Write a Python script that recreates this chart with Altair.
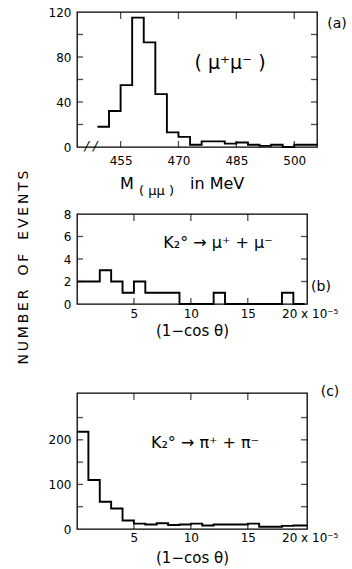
import altair as alt
import pandas as pd

FONT = "DejaVu Sans"

# ---------------- panel (a): M(mu mu) spectrum ----------------
a_bin_starts = [449, 452, 455, 458, 461, 464, 467, 470, 473, 476,
                479, 482, 485, 488, 491, 494, 497, 500, 503]
a_bin_end = 506
a_counts = [18, 32, 55, 115, 93, 47, 13, 9, 2, 5, 5, 3, 4, 2, 1, 2, 0, 2, 2]
a_x_labels = [455, 470, 485, 500]
a_x_ticks = [455, 470, 485, 500]
a_y_labels = [0, 40, 80, 120]
a_y_ticks = [20, 40, 60, 80, 100]
a_x_domain = [443.7, 505.9]
a_y_domain = [0, 120]

# ---------------- panel (b): K2 -> mu+ mu- ----------------
b_bin_starts = [0, 1, 2, 3, 4, 5, 6, 7, 8, 9, 10, 11, 12, 13, 14, 15, 16, 17, 18, 19]
b_bin_end = 20
b_counts = [2, 2, 3, 2, 1, 2, 1, 1, 1, 0, 0, 0, 1, 0, 0, 0, 0, 0, 1, 0]
b_y_labels = [0, 2, 4, 6, 8]
b_y_ticks = [2, 4, 6]
b_y_domain = [0, 8]

# ---------------- panel (c): K2 -> pi+ pi- ----------------
c_bin_starts = [0, 1, 2, 3, 4, 5, 6, 7, 8, 9, 10, 11, 12, 13, 14, 15, 16, 17, 18, 19]
c_bin_end = 20.2
c_counts = [218, 110, 61, 46, 19, 12, 10, 13, 9, 10, 12, 8, 10, 10, 10, 12, 5, 5, 7, 8]
c_y_labels = [0, 100, 200]
c_y_ticks = [50, 100, 150, 200, 250]
c_y_domain = [0, 305]

bc_x_labels = [5, 10, 15, 20]
bc_x_ticks = [5, 10, 15]
bc_x_domain = [0, 20.2]


def text_layer(label, x, y, size, align="center", baseline="middle", style="normal"):
    df = pd.DataFrame({"label": [label]})
    return alt.Chart(df).mark_text(
        font=FONT, fontSize=size, align=align, baseline=baseline,
        fontStyle=style, color="black"
    ).encode(x=alt.value(x), y=alt.value(y), text="label:N")


def panel(starts, end, counts, xdom, ydom, w, h, x_labels, x_ticks, y_labels,
          y_ticks, x_title, x_label_pad, title_pad=4, label_expr=None):
    xs = alt.Scale(domain=xdom, nice=False, zero=False)
    ys = alt.Scale(domain=ydom, nice=False, zero=False)
    xaxis_kw = dict(values=x_labels, ticks=False, domain=False, grid=False,
                    labelPadding=x_label_pad, labelFlush=False)
    if x_title:
        xaxis_kw["title"] = x_title
        xaxis_kw["titlePadding"] = title_pad
    else:
        xaxis_kw["title"] = None
    if label_expr:
        xaxis_kw["labelExpr"] = label_expr
        xaxis_kw["labelOffset"] = alt.condition("datum.value == 20", alt.value(5), alt.value(0))
    xaxis = alt.Axis(**xaxis_kw)
    yaxis = alt.Axis(values=y_labels, ticks=False, domain=False, grid=False, title=None,
                     labelPadding=6, minExtent=40, labelFlush=False)

    df = pd.DataFrame({"x": starts + [end], "n": counts + [counts[-1]]})
    hist = alt.Chart(df).mark_line(
        interpolate="step-after", color="black", strokeWidth=1.9
    ).encode(
        x=alt.X("x:Q", scale=xs, axis=xaxis),
        y=alt.Y("n:Q", scale=ys, axis=yaxis),
    )
    ty = pd.DataFrame({"n": y_ticks})
    tx = pd.DataFrame({"x": x_ticks})
    tick_kw = dict(thickness=1.3, color="black")
    left = alt.Chart(ty).mark_tick(orient="horizontal", size=6, **tick_kw).encode(
        y=alt.Y("n:Q", scale=ys, axis=yaxis), x=alt.value(3))
    right = alt.Chart(ty).mark_tick(orient="horizontal", size=6, **tick_kw).encode(
        y=alt.Y("n:Q", scale=ys, axis=yaxis), x=alt.value(w - 3))
    top = alt.Chart(tx).mark_tick(orient="vertical", size=7, **tick_kw).encode(
        x=alt.X("x:Q", scale=xs, axis=xaxis), y=alt.value(3.5))
    bottom = alt.Chart(tx).mark_tick(orient="vertical", size=6, **tick_kw).encode(
        x=alt.X("x:Q", scale=xs, axis=xaxis), y=alt.value(h - 3))
    return [hist, left, right, top, bottom]


# panel (a)
wa, ha = 240, 135
layers_a = panel(a_bin_starts, a_bin_end, a_counts, a_x_domain, a_y_domain, wa, ha,
                 a_x_labels, a_x_ticks, a_y_labels, a_y_ticks, None, 8)
layers_a += [
    text_layer("(a)", 260, 12, 14),
    text_layer("( μ⁺μ⁻ )", 153, 51, 19),
    text_layer("/ /", 14, 134, 13, style="italic"),
    text_layer("M", 43, 177, 16, align="left", baseline="alphabetic"),
    text_layer("( μμ )", 62, 183, 13, align="left", baseline="alphabetic"),
    text_layer("in  MeV", 113, 177, 16, align="left", baseline="alphabetic"),
]
pa = alt.layer(*layers_a).properties(width=wa, height=ha)

# panel (b)
wb, hb = 230, 90
lab20 = "datum.value == 20 ? '20 x 10⁻⁵' : datum.label"
layers_b = panel(b_bin_starts, b_bin_end, b_counts, bc_x_domain, b_y_domain, wb, hb,
                 bc_x_labels, bc_x_ticks, b_y_labels, b_y_ticks, "(1−cos θ)", 4,
                 title_pad=4, label_expr=lab20)
layers_b += [
    text_layer("(b)", 244, 73, 14),
    text_layer("K₂° → μ⁺ + μ⁻", 141, 34, 16, baseline="alphabetic"),
]
pb = alt.layer(*layers_b).properties(width=wb, height=hb)

# panel (c)
wc, hc = 230, 136
layers_c = panel(c_bin_starts, c_bin_end, c_counts, bc_x_domain, c_y_domain, wc, hc,
                 bc_x_labels, bc_x_ticks, c_y_labels, c_y_ticks, "(1−cos θ)", 3,
                 title_pad=7, label_expr=lab20)
layers_c += [
    text_layer("(c)", 253, -1, 14),
    text_layer("K₂° → π⁺ + π⁻", 128, 55, 16, baseline="alphabetic"),
]
pc = alt.layer(*layers_c).properties(width=wc, height=hc)

ylab = "N\u2009U\u2009M\u2009B\u2009E\u2009R\u2003O\u2009F\u2003E\u2009V\u2009E\u2009N\u2009T\u2009S"

chart = alt.vconcat(
    alt.vconcat(pa, pb, spacing=8),
    pc,
    spacing=45,
).properties(
    title=alt.TitleParams(ylab, orient="left", anchor="middle", font=FONT, fontSize=14,
                          fontWeight="normal", color="black", offset=5, dx=18),
    padding={"left": 17, "top": 5, "right": 0, "bottom": 0},
    background="white",
).configure_view(
    stroke="black", strokeWidth=1.3
).configure_axis(
    labelFont=FONT, labelFontSize=12, labelColor="black",
    titleFont=FONT, titleFontSize=15, titleFontWeight="normal", titleColor="black",
)

chart.save("out.html", embed_options={"renderer": "svg", "actions": False})
